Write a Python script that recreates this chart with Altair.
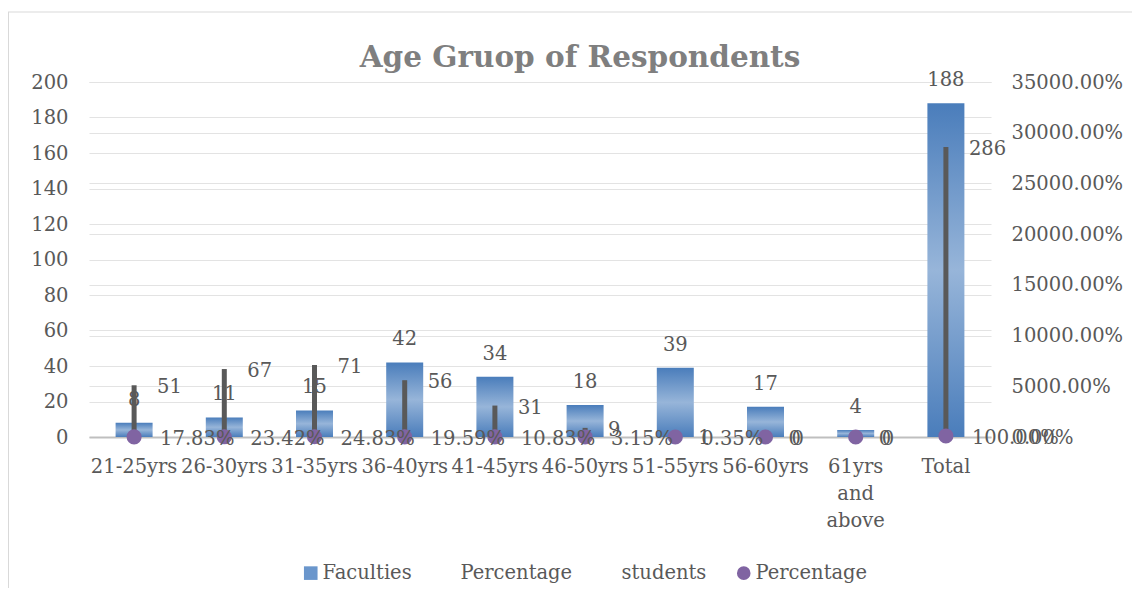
import altair as alt
import pandas as pd

# ---------------- data ----------------
ages = ["21-25yrs", "26-30yrs", "31-35yrs", "36-40yrs", "41-45yrs",
        "46-50yrs", "51-55yrs", "56-60yrs", "61yrs and above", "Total"]
faculties = [8, 11, 15, 42, 34, 18, 39, 17, 4, 188]
students = [51, 67, 71, 56, 31, 9, 1, 0, 0, 286]
student_pct = [17.83, 23.42, 24.83, 19.59, 10.83, 3.15, 0.35, 0, 0, 100.00]
left_ticks = [0, 20, 40, 60, 80, 100, 120, 140, 160, 180, 200]
right_ticks = [0, 50, 100, 150, 200, 250, 300, 350]
legend_names = ["Faculties", "Percentage (faculties)", "students", "Percentage"]
title_text = "Age Gruop of Respondents"

# ---------------- styling ----------------
FONT = "DejaVu Serif"
FS = 19.5
TXT = "#595959"
GRID = "#e3e3e3"
PURPLE = "#8064a2"

df = pd.DataFrame({
    "age": ages,
    "fac": faculties,
    "stu": students,
    "pct": [p / 100 for p in student_pct],
    "series": ["Percentage"] * len(ages),
})

base = alt.Chart(df)

x_enc = alt.X(
    "age:N", sort=ages, title=None,
    scale=alt.Scale(paddingInner=0, paddingOuter=0),
    axis=alt.Axis(
        labelAngle=0, labelFont=FONT, labelFontSize=FS, labelColor=TXT,
        labelPadding=20, labelOverlap=False, ticks=False, grid=False,
        domainColor="#bfbfbf", domainWidth=2, labelLineHeight=27,
        labelBaseline="top",
        labelExpr="datum.value == '61yrs and above' ? ['61yrs','and','above'] : datum.value",
    ),
)

left_axis = alt.Axis(
    orient="left", values=left_ticks, grid=True, gridColor=GRID, domain=False,
    ticks=False, labelPadding=21, labelFont=FONT, labelFontSize=FS, labelColor=TXT,
)
right_axis = alt.Axis(
    orient="right", values=right_ticks, format=".2%", grid=True, gridColor=GRID,
    domain=False, ticks=False, labelPadding=20, labelFont=FONT, labelFontSize=FS,
    labelColor=TXT,
)
left_scale = alt.Scale(domain=[0, 200], nice=False)
right_scale = alt.Scale(domain=[0, 350], nice=False)

grad = alt.LinearGradient(
    gradient="linear",
    stops=[alt.GradientStop(offset=0, color="#4a7dbb"),
           alt.GradientStop(offset=0.5, color="#97b5d9"),
           alt.GradientStop(offset=1, color="#4a7dbb")],
    x1=0, x2=0, y1=0, y2=1,
)

txt = dict(font=FONT, fontSize=FS, color=TXT)

fac_bars = base.mark_bar(size=37, color=grad).encode(
    x=x_enc, y=alt.Y("fac:Q", scale=left_scale, axis=left_axis, title=None))
fac_text = base.mark_text(dy=-17, baseline="alphabetic", **txt).encode(
    x=x_enc, y=alt.Y("fac:Q", scale=left_scale, axis=left_axis, title=None),
    text="fac:Q")
left = alt.layer(fac_bars, fac_text)

y_stu = alt.Y("stu:Q", scale=right_scale, axis=right_axis, title=None)
y_pct = alt.Y("pct:Q", scale=right_scale, axis=right_axis, title=None)

stu_bars = base.mark_bar(size=5, color="#595959").encode(x=x_enc, y=y_stu)
stu_text = base.mark_text(align="left", dx=23, dy=2, baseline="middle", **txt).encode(
    x=x_enc, y=y_stu, text="stu:Q")

leg = alt.Legend(
    title=None, orient="none", legendX=212, legendY=481, direction="horizontal",
    columnPadding=27, labelOffset=2, symbolSize=185, symbolStrokeWidth=0,
    labelFont=FONT, labelFontSize=FS, labelColor=TXT, padding=0,
    labelExpr="datum.label == 'Percentage (faculties)' ? 'Percentage' : datum.label",
)
dots = base.mark_point(filled=True, size=230, opacity=1).encode(
    x=x_enc, y=y_pct,
    color=alt.Color("series:N", title=None,
                    scale=alt.Scale(domain=legend_names,
                                    range=["#6a96cc", "transparent", "transparent", PURPLE]),
                    legend=leg),
    shape=alt.Shape("series:N", title=None,
                    scale=alt.Scale(domain=legend_names,
                                    range=["square", "circle", "circle", "circle"]),
                    legend=leg),
)
dot_text = base.transform_calculate(
    lbl="datum.pct == 0 ? '0' : format(datum.pct, '.2%')"
).mark_text(align="left", dx=26, dy=2, baseline="middle", **txt).encode(
    x=x_enc, y=y_pct, text="lbl:N")
right = alt.layer(stu_bars, stu_text, dots, dot_text)

# chart frame (outer border of the embedded Excel chart)
frame_df = pd.DataFrame({"a": [0]})
frame_top = alt.Chart(frame_df).mark_rule(color="#d9d9d9", strokeWidth=1).encode(
    x=alt.value(-81), x2=alt.value(1043), y=alt.value(-70))
frame_left = alt.Chart(frame_df).mark_rule(color="#d9d9d9", strokeWidth=1).encode(
    x=alt.value(-80.5), y=alt.value(-70), y2=alt.value(600))

chart = alt.layer(left, right, frame_top, frame_left).resolve_scale(
    y="independent"
).properties(
    width=902, height=355,
    title=alt.TitleParams(title_text, font=FONT, fontSize=29.5, fontWeight="bold",
                          color="#7f7f7f", anchor="middle", dx=40, dy=72, offset=10),
    padding={"left": 81, "top": 74, "right": 141, "bottom": 151},
    autosize=alt.AutoSizeParams(type="none"),
).configure_view(strokeWidth=0)

chart.save("out.html", embed_options={"renderer": "svg", "actions": False})
